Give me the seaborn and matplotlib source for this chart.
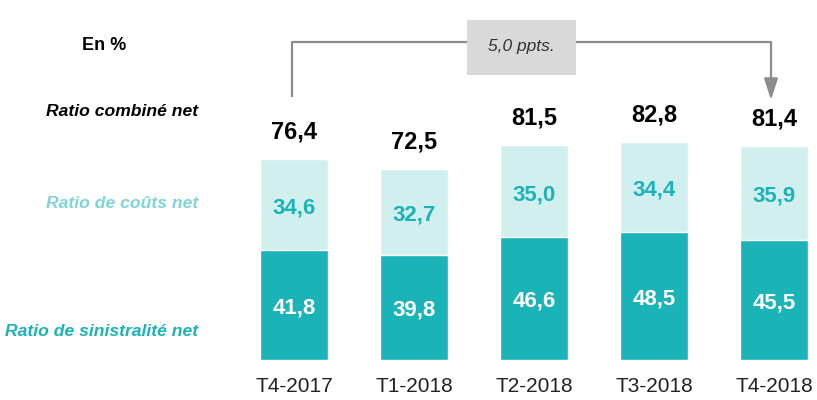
import matplotlib
matplotlib.use("Agg")
import matplotlib.pyplot as plt
import seaborn as sns
import pandas as pd
from matplotlib.patches import Rectangle, FancyArrowPatch

periods = ["T4-2017", "T1-2018", "T2-2018", "T3-2018", "T4-2018"]
sinistralite = [41.8, 39.8, 46.6, 48.5, 45.5]
couts = [34.6, 32.7, 35.0, 34.4, 35.9]
combine = [76.4, 72.5, 81.5, 82.8, 81.4]
variation_label = "5,0 ppts."

DARK = "#1ab3b7"
LIGHT = "#d2eff0"
LIGHT_TXT = "#7fd4d7"
FONT = ["Liberation Sans Narrow", "Liberation Sans", "DejaVu Sans"]

sns.set_theme(style="white")
plt.rcParams["font.family"] = FONT

df = pd.DataFrame({"periode": periods, "sin": sinistralite, "couts": couts,
                   "stack": [a + b for a, b in zip(sinistralite, couts)]})

fig = plt.figure(figsize=(8.17, 4.0), dpi=100)
ax = fig.add_axes([0, 0, 1, 1])
ppu = 2.63  # pixels per unit
sns.barplot(data=df, x="periode", y="stack", color=LIGHT, width=0.567,
            saturation=1, ax=ax)
sns.barplot(data=df, x="periode", y="sin", color=DARK, width=0.567,
            saturation=1, ax=ax)
ax.set_xlim(-294 / 120, (817 - 294) / 120)
ax.set_ylim(-40 / ppu, 360 / ppu)
ax.axis("off")

def py(pix):  # pixel from top -> data y
    return (360 - pix) / ppu

def px(pix):
    return (pix - 294) / 120

for i, (s, c, t) in enumerate(zip(sinistralite, couts, combine)):
    ax.text(i, s / 2 - 1, f"{s:.1f}".replace(".", ","), ha="center", va="center",
            color="white", fontsize=16, fontweight="bold")
    ax.text(i, s + c / 2 - 1.2, f"{c:.1f}".replace(".", ","), ha="center", va="center",
            color=DARK, fontsize=16, fontweight="bold")
    ax.text(i, s + c + 6, f"{t:.1f}".replace(".", ","), ha="center", va="bottom",
            color="black", fontsize=17, fontweight="bold")
    ax.text(i, py(386), periods[i], ha="center", va="center", color="#222222",
            fontsize=15)

ax.text(px(104), py(46), "En %", ha="center", va="center", fontsize=13,
        fontweight="bold", color="black")
ax.text(px(198), py(111), "Ratio combiné net", ha="right", va="center",
        fontsize=12.6, fontweight="bold", style="italic", color="black")
ax.text(px(198), py(203), "Ratio de coûts net", ha="right", va="center",
        fontsize=12.6, fontweight="bold", style="italic", color=LIGHT_TXT)
ax.text(px(198), py(331), "Ratio de sinistralité net", ha="right", va="center",
        fontsize=12.6, fontweight="bold", style="italic", color=DARK)

# bracket
gray = "#8c8c8c"
ax.plot([px(292), px(292), px(467)], [py(97), py(42), py(42)], color=gray, lw=1.6,
        solid_capstyle="butt")
ax.plot([px(576), px(771), px(771)], [py(42), py(42), py(82)], color=gray, lw=1.6,
        solid_capstyle="butt")
ax.add_patch(FancyArrowPatch((px(771), py(78)), (px(771), py(100)),
                             arrowstyle="-|>,head_length=13,head_width=4.2",
                             color=gray, lw=1.6, shrinkA=0, shrinkB=0))
ax.add_patch(Rectangle((px(467), py(75)), px(576) - px(467), py(20) - py(75),
                       facecolor="#d9d9d9", edgecolor="none"))
ax.text(px(521), py(46), variation_label, ha="center", va="center", fontsize=12.5,
        style="italic", color="#333333")

fig.savefig("out.png", dpi=100)
